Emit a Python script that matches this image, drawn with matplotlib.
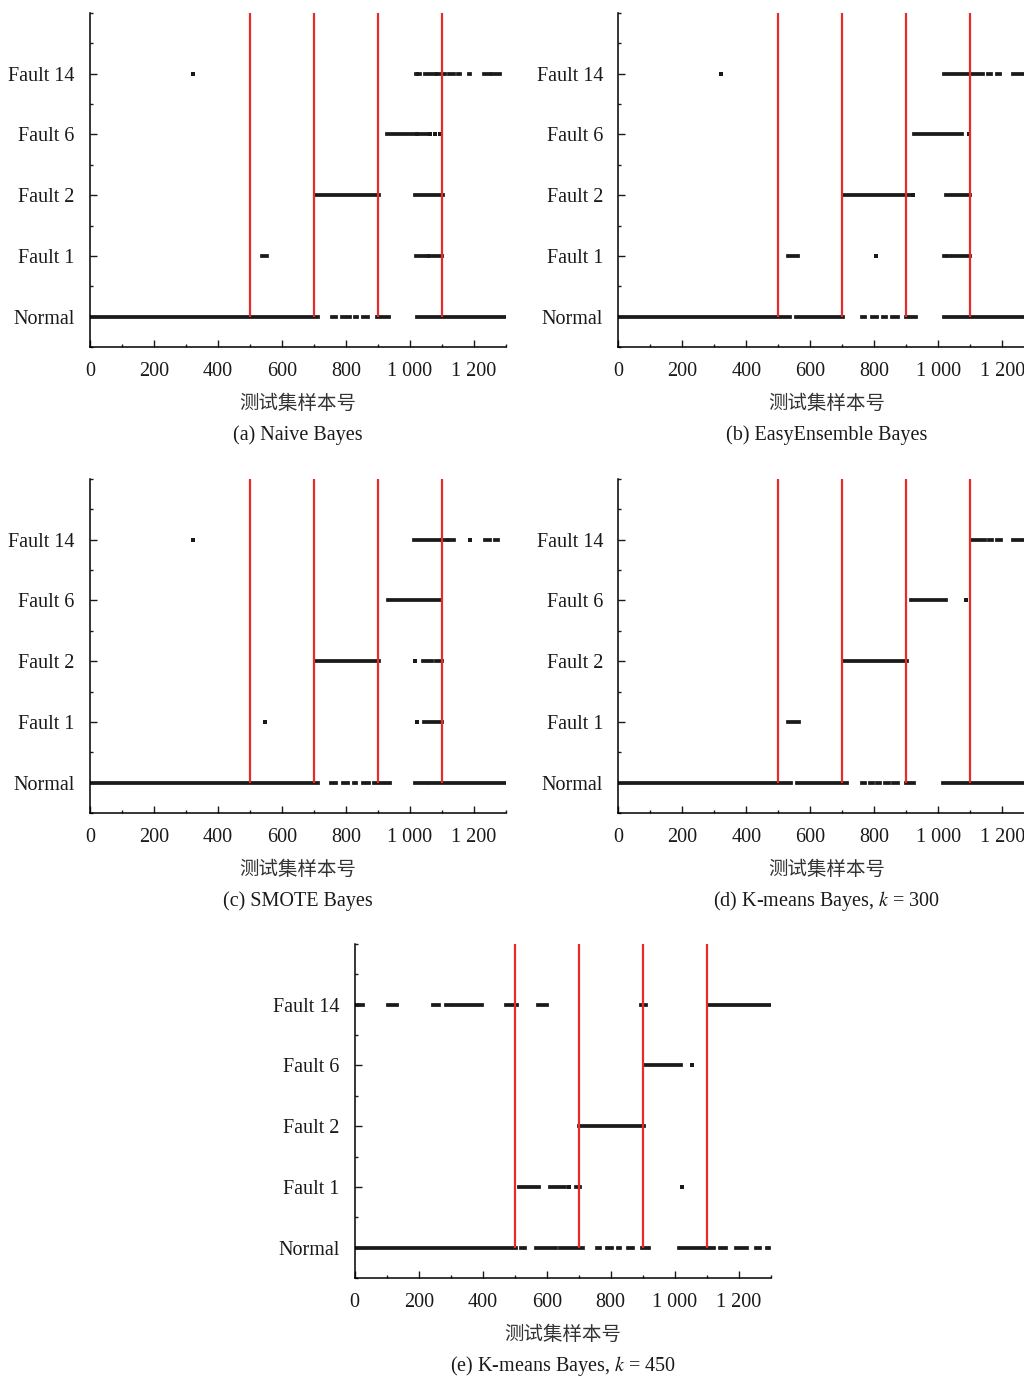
import matplotlib.pyplot as plt
from matplotlib.ticker import MultipleLocator, FixedLocator, FuncFormatter

plt.rcParams['font.family'] = ['Liberation Serif', 'DejaVu Serif']
plt.rcParams['mathtext.fontset'] = 'stix'

# class order from bottom to top
classes = ['Normal', 'Fault 1', 'Fault 2', 'Fault 6', 'Fault 14']
boundaries = [500, 700, 900, 1100]

# predicted class of each test sample, read as runs (first sample, last sample)
# one list per class, same order as `classes`
naive = [
    [(0, 714), (757, 768), (786, 797), (807, 812), (828, 833), (852, 870), (896, 935), (1021, 1300)],
    [(536, 554), (1018, 1055), (1060, 1099)],
    [(703, 904), (1015, 1104)],
    [(927, 1021), (1021, 1052), (1062, 1062), (1078, 1078), (1094, 1094)],
    [(323, 323), (1018, 1022), (1026, 1031), (1047, 1080), (1083, 1109), (1122, 1137),
     (1151, 1157), (1183, 1189), (1232, 1250), (1255, 1281)],
]
easyensemble = [
    [(0, 536), (555, 701), (760, 771), (792, 807), (828, 836), (854, 875), (899, 930), (1018, 1300)],
    [(531, 562), (805, 805), (1018, 1022), (1028, 1036), (1045, 1099)],
    [(703, 911), (920, 920), (1024, 1099)],
    [(924, 1073), (1096, 1096)],
    [(321, 321), (1018, 1141), (1156, 1164), (1182, 1193), (1234, 1292)],
]
smote = [
    [(0, 714), (753, 769), (790, 807), (825, 831), (854, 872), (887, 937), (1016, 1052), (1062, 1300)],
    [(547, 547), (1021, 1021), (1044, 1099)],
    [(703, 904), (1017, 1017), (1042, 1068), (1080, 1099)],
    [(932, 1094)],
    [(323, 323), (1014, 1094), (1099, 1115), (1123, 1139), (1188, 1188), (1234, 1250), (1266, 1276)],
]
kmeans300 = [
    [(0, 539), (557, 716), (760, 771), (786, 795), (809, 818), (833, 847), (857, 875), (899, 924), (1016, 1300)],
    [(531, 566)],
    [(703, 903)],
    [(914, 1023), (1086, 1086)],
    [(1104, 1146), (1159, 1167), (1182, 1195), (1232, 1292)],
]
kmeans450 = [
    [(0, 505), (521, 531), (566, 630), (641, 714), (757, 768), (789, 805), (823, 830), (854, 870),
     (899, 920), (1014, 1107), (1115, 1123), (1143, 1161), (1193, 1226), (1255, 1268), (1288, 1295)],
    [(512, 576), (611, 656), (670, 670), (693, 703), (1024, 1024)],
    [(700, 904)],
    [(904, 1021), (1054, 1054)],
    [(0, 6), (12, 26), (104, 132), (245, 263), (284, 297), (307, 399), (474, 508), (573, 601),
     (896, 909), (1104, 1302)],
]

W, H = 1024, 1378
fig = plt.figure(figsize=(W / 100, H / 100), dpi=100)


def add_panel(left, top, runs, caption):
    ax = fig.add_axes([left / W, 1 - (top + 334) / H, 416 / W, 334 / H])
    for level, segs in enumerate(runs):
        spans = [(s, e) for s, e in segs if e > s]
        dots = [s for s, e in segs if e == s]
        if spans:
            lc = ax.hlines([level] * len(spans), [s for s, e in spans], [e for s, e in spans],
                           colors='#1a1a1a', lw=2.7)
            lc.set_capstyle('projecting')
        if dots:
            ax.plot(dots, [level] * len(dots), 's', color='#1a1a1a', ms=2.9, mew=0)
    ax.vlines(boundaries, 0, 5, colors='#ea2a2a', lw=1.6, zorder=3)

    ax.set_xlim(0, 1300)
    ax.set_ylim(-0.5, 5)
    ax.spines['top'].set_visible(False)
    ax.spines['right'].set_visible(False)
    for s in ['left', 'bottom']:
        ax.spines[s].set_linewidth(1.1)

    ax.xaxis.set_major_locator(MultipleLocator(200))
    ax.xaxis.set_minor_locator(MultipleLocator(100))
    ax.xaxis.set_major_formatter(FuncFormatter(lambda v, p: f'{int(v):,}'.replace(',', ' ')))
    ax.yaxis.set_major_locator(FixedLocator(range(len(classes))))
    ax.yaxis.set_minor_locator(FixedLocator([-0.5, 0.5, 1.5, 2.5, 3.5, 4.5, 5]))
    ax.set_yticklabels(classes)
    ax.tick_params(which='both', direction='in', width=1.0, labelsize=14.5, pad=11, colors='#1a1a1a')
    ax.tick_params(which='major', length=4.8)
    ax.tick_params(which='minor', length=2.5)

    ax.annotate('测试集样本号', xy=(0.5, 0), xycoords='axes fraction', xytext=(0, -40.5),
                textcoords='offset points', ha='center', va='center', fontsize=14,
                family=['Noto Sans CJK SC'], color='#333333')
    ax.annotate(caption, xy=(0.5, 0), xycoords='axes fraction', xytext=(0, -63.5),
                textcoords='offset points', ha='center', va='center', fontsize=14.5,
                color='#1a1a1a')
    return ax


add_panel(90, 13, naive, '(a) Naive Bayes')
add_panel(618.3, 13, easyensemble, '(b) EasyEnsemble Bayes')
add_panel(90, 479, smote, '(c) SMOTE Bayes')
add_panel(618.3, 479, kmeans300, '(d) K-means Bayes, $k$ = 300')
add_panel(354.7, 944, kmeans450, '(e) K-means Bayes, $k$ = 450')

fig.savefig('out.png', dpi=100)
